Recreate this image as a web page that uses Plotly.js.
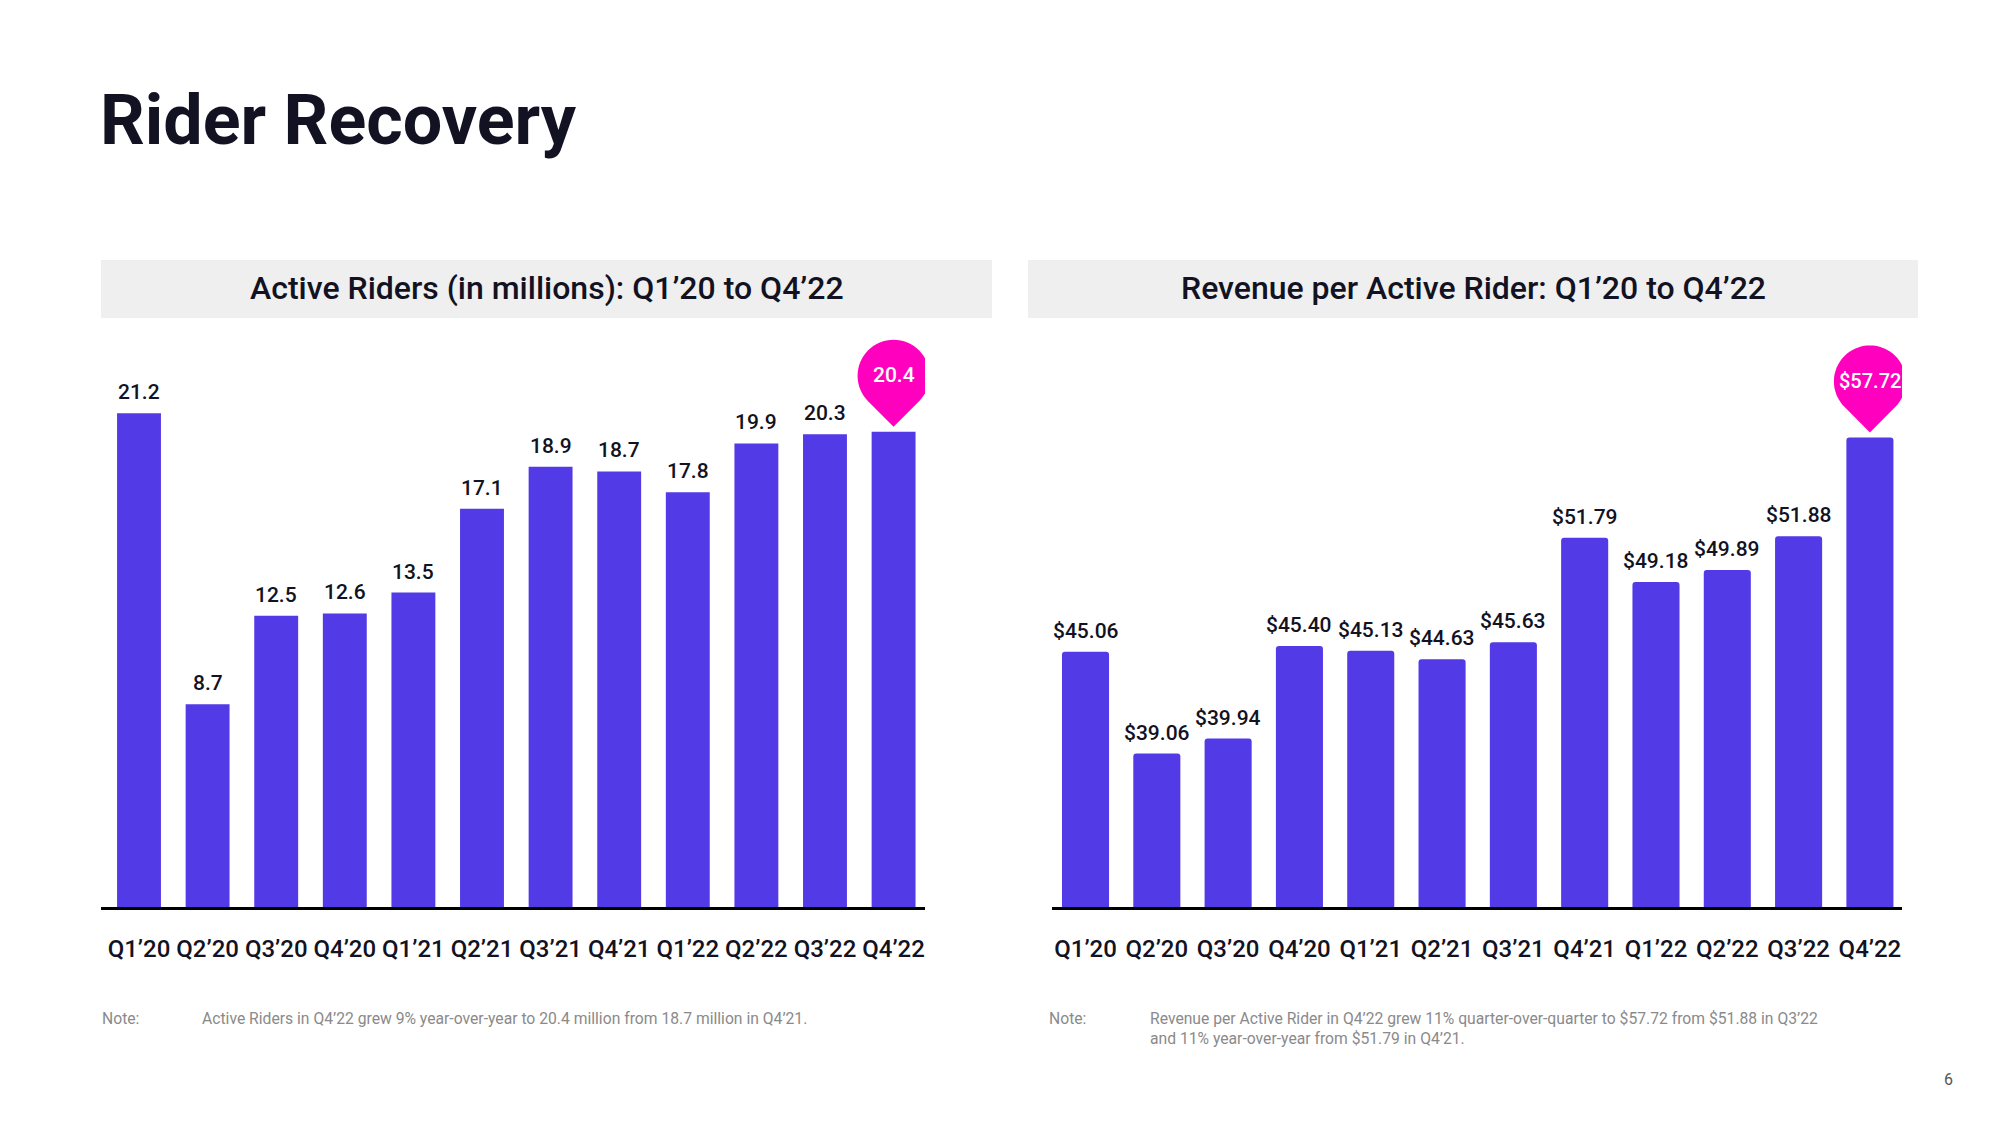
<!DOCTYPE html>
<html><head><meta charset="utf-8">
<script src="https://cdn.plot.ly/plotly-3.0.1.min.js"></script>
<style>html,body{margin:0;padding:0;background:#fff;} #chart{width:2000px;height:1125px;}</style>
</head><body><div id="chart"></div>
<script>
// ---- data ----
const quarters = ['Q1’20','Q2’20','Q3’20','Q4’20','Q1’21','Q2’21','Q3’21','Q4’21','Q1’22','Q2’22','Q3’22','Q4’22'];
const activeRiders = [21.2, 8.7, 12.5, 12.6, 13.5, 17.1, 18.9, 18.7, 17.8, 19.9, 20.3, 20.4];
const revenuePerRider = [45.06, 39.06, 39.94, 45.40, 45.13, 44.63, 45.63, 51.79, 49.18, 49.89, 51.88, 57.72];
const riderLabels = activeRiders.map(v => v.toFixed(1));
const revenueLabels = revenuePerRider.map(v => '$' + v.toFixed(2));
const pageTitle = 'Rider Recovery';
const leftTitle = 'Active Riders (in millions): Q1’20 to Q4’22';
const rightTitle = 'Revenue per Active Rider: Q1’20 to Q4’22';
const noteLabel = 'Note:';
const leftNote = 'Active Riders in Q4’22 grew 9% year-over-year to 20.4 million from 18.7 million in Q4’21.';
const rightNote = 'Revenue per Active Rider in Q4’22 grew 11% quarter-over-quarter to $57.72 from $51.88 in Q3’22<br>and 11% year-over-year from $51.79 in Q4’21.';
const pageNumber = '6';

// ---- styling ----
const W = 2000, H = 1125;
const px = x => x / W, py = y => 1 - y / H;
const FONT = 'Roboto, Inter, "Noto Sans", sans-serif';
const PURPLE = '#523ae6', PINK = '#ff00bf', INK = '#121222';

function pinPath(tip, cy, r, n) {
  const d = cy - tip;
  const a = Math.acos(r / d);
  const start = -Math.PI / 2 + a, end = 3 * Math.PI / 2 - a;
  let p = 'M 0,' + tip;
  for (let i = 0; i <= n; i++) {
    const t = start + (end - start) * i / n;
    p += ' L ' + (r * Math.cos(t)).toFixed(2) + ',' + (cy + r * Math.sin(t)).toFixed(2);
  }
  return p + ' Z';
}

const last = quarters.length - 1;

const traces = [
  { type: 'bar', x: quarters, y: activeRiders, xaxis: 'x', yaxis: 'y',
    marker: { color: PURPLE }, width: 0.64, hoverinfo: 'none' },
  { type: 'bar', x: quarters, y: revenuePerRider, xaxis: 'x2', yaxis: 'y2',
    marker: { color: PURPLE, cornerradius: 3 }, width: 0.66, hoverinfo: 'none' }
];

const annotations = [];
const valFont = { family: FONT, size: 21, color: INK, weight: 500 };
quarters.forEach((q, i) => {
  if (i !== last) {
    annotations.push({ xref: 'x', yref: 'y', x: q, y: activeRiders[i], text: riderLabels[i],
      showarrow: false, yanchor: 'middle', yshift: 21, font: valFont });
    annotations.push({ xref: 'x2', yref: 'y2', x: q, y: revenuePerRider[i], text: revenueLabels[i],
      showarrow: false, yanchor: 'middle', yshift: 21, font: valFont });
  }
});
annotations.push({ xref: 'x', yref: 'y', x: quarters[last], y: activeRiders[last], text: riderLabels[last],
  showarrow: false, yanchor: 'middle', yshift: 57, font: { family: FONT, size: 21, color: '#ffffff', weight: 500 } });
annotations.push({ xref: 'x2', yref: 'y2', x: quarters[last], y: revenuePerRider[last], text: revenueLabels[last],
  showarrow: false, yanchor: 'middle', yshift: 56, font: { family: FONT, size: 20, color: '#ffffff', weight: 500 } });

// titles
annotations.push({ xref: 'paper', yref: 'paper', x: px(98), y: py(120), xanchor: 'left', yanchor: 'middle',
  text: pageTitle, showarrow: false, font: { family: FONT, size: 70, color: INK, weight: 700 } });
annotations.push({ xref: 'paper', yref: 'paper', x: px(546.5), y: py(288), xanchor: 'center', yanchor: 'middle',
  text: leftTitle, showarrow: false, font: { family: FONT, size: 32, color: INK, weight: 500 } });
annotations.push({ xref: 'paper', yref: 'paper', x: px(1473), y: py(288), xanchor: 'center', yanchor: 'middle',
  text: rightTitle, showarrow: false, font: { family: FONT, size: 32, color: INK, weight: 500 } });

// notes
const noteFont = { family: FONT, size: 15.7, color: '#8a8a8a', weight: 400 };
annotations.push({ xref: 'paper', yref: 'paper', x: px(100), y: py(1007), xanchor: 'left', yanchor: 'top',
  text: noteLabel, showarrow: false, font: noteFont, align: 'left' });
annotations.push({ xref: 'paper', yref: 'paper', x: px(200), y: py(1007), xanchor: 'left', yanchor: 'top',
  text: leftNote, showarrow: false, font: noteFont, align: 'left' });
annotations.push({ xref: 'paper', yref: 'paper', x: px(1047), y: py(1007), xanchor: 'left', yanchor: 'top',
  text: noteLabel, showarrow: false, font: noteFont, align: 'left' });
annotations.push({ xref: 'paper', yref: 'paper', x: px(1148), y: py(1007), xanchor: 'left', yanchor: 'top',
  text: rightNote, showarrow: false, font: noteFont, align: 'left' });
annotations.push({ xref: 'paper', yref: 'paper', x: px(1948), y: py(1079), xanchor: 'center', yanchor: 'middle',
  text: pageNumber, showarrow: false, font: { family: FONT, size: 16, color: '#555555' } });

const shapes = [
  { type: 'rect', xref: 'paper', yref: 'paper', x0: px(101), x1: px(992), y0: py(318), y1: py(260),
    fillcolor: '#efefef', line: { width: 0 }, layer: 'below' },
  { type: 'rect', xref: 'paper', yref: 'paper', x0: px(1028), x1: px(1918), y0: py(318), y1: py(260),
    fillcolor: '#efefef', line: { width: 0 }, layer: 'below' },
  { type: 'path', xref: 'x', yref: 'y', xsizemode: 'pixel', ysizemode: 'pixel',
    xanchor: quarters[last], yanchor: activeRiders[last], path: pinPath(5, 56, 36, 48),
    fillcolor: PINK, line: { width: 0 }, layer: 'above' },
  { type: 'path', xref: 'x2', yref: 'y2', xsizemode: 'pixel', ysizemode: 'pixel',
    xanchor: quarters[last], yanchor: revenuePerRider[last], path: pinPath(5, 56, 36, 48),
    fillcolor: PINK, line: { width: 0 }, layer: 'above' }
];

const tickFont = { family: FONT, size: 24, color: INK, weight: 500 };
const xCommon = { type: 'category', showline: true, linecolor: '#000000', linewidth: 3, ticks: '',
  showgrid: false, zeroline: false, tickfont: tickFont, ticklabelstandoff: 18, fixedrange: true };
const yCommon = { visible: false, showgrid: false, zeroline: false, fixedrange: true };

const layout = {
  width: W, height: H, margin: { l: 0, r: 0, t: 0, b: 0 },
  paper_bgcolor: '#ffffff', plot_bgcolor: 'rgba(0,0,0,0)', showlegend: false,
  bargap: 0.35,
  xaxis: Object.assign({}, xCommon, { domain: [px(101), px(925)], range: [-0.554, 11.458], anchor: 'y' }),
  yaxis: Object.assign({}, yCommon, { domain: [py(907), py(330)], range: [0, 24.77], anchor: 'x' }),
  xaxis2: Object.assign({}, xCommon, { domain: [px(1052), px(1902)], range: [-0.47, 11.45], anchor: 'y2' }),
  yaxis2: Object.assign({}, yCommon, { domain: [py(907), py(330)], range: [30, 64.06], anchor: 'x2' }),
  annotations: annotations,
  shapes: shapes
};

Plotly.newPlot('chart', traces, layout, { displayModeBar: false, staticPlot: true });
</script>
</body></html>
